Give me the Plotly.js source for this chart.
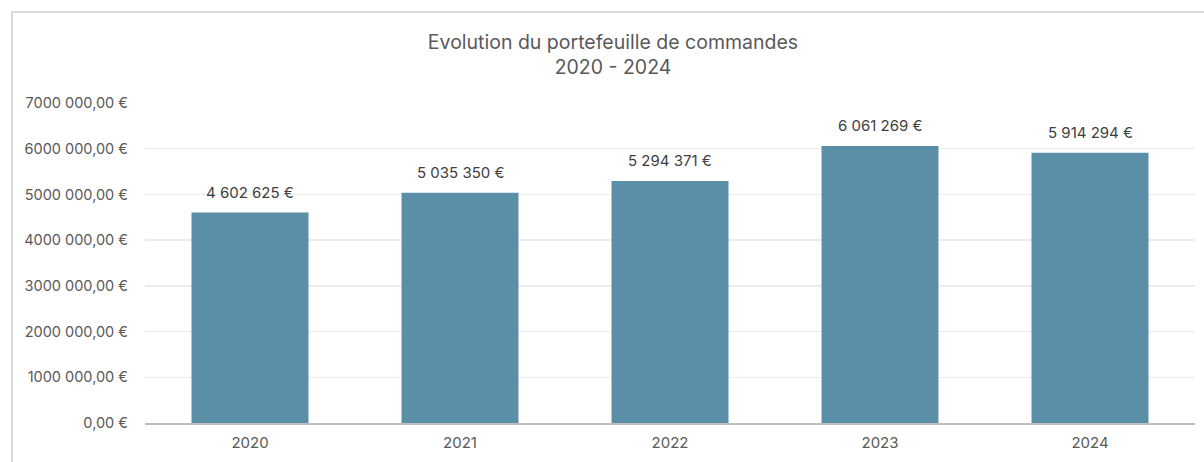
<!DOCTYPE html>
<html>
<head>
<meta charset="utf-8">
<script src="https://cdn.plot.ly/plotly-3.0.1.min.js"></script>
<style>
html,body{margin:0;padding:0;background:#fff;overflow:hidden;}
#frame{position:absolute;left:11px;top:11px;width:1400px;height:800px;border:2px solid #d9d9d9;box-sizing:border-box;}
#chart{position:absolute;left:0;top:0;width:1204px;height:462px;}
</style>
</head>
<body>
<div id="frame"></div>
<div id="chart"></div>
<script>
const years = ['2020','2021','2022','2023','2024'];
const values = [4602625, 5035350, 5294371, 6061269, 5914294];
const valueLabels = ['4 602 625 €','5 035 350 €','5 294 371 €','6 061 269 €','5 914 294 €'];
const tickVals = [0,1000000,2000000,3000000,4000000,5000000,6000000,7000000];
const tickLabels = ['0,00 €','1000 000,00 €','2000 000,00 €','3000 000,00 €','4000 000,00 €','5000 000,00 €','6000 000,00 €','7000 000,00 €'];
const titleText = 'Evolution du portefeuille de commandes<br>2020 - 2024';

const font = 'Inter, "Open Sans", "Liberation Sans", sans-serif';

const trace = {
  type: 'bar',
  x: years,
  y: values,
  marker: {color: '#5b8ea7'},
  width: 0.557,
  hoverinfo: 'none'
};

const annotations = years.map((yr, i) => ({
  x: i, y: values[i], text: valueLabels[i], showarrow: false,
  yshift: 20, xref: 'x', yref: 'y',
  font: {family: font, size: 15, color: '#404040'}
}));

const layout = {
  width: 1204, height: 462,
  margin: {l: 145, r: 9, t: 103, b: 39},
  paper_bgcolor: 'rgba(0,0,0,0)',
  plot_bgcolor: 'rgba(0,0,0,0)',
  showlegend: false,
  title: {
    text: titleText,
    x: 613/1204, xref: 'container', xanchor: 'center',
    y: 1 - 49/462, yref: 'container', yanchor: 'middle',
    font: {family: font, size: 19.5, color: '#595959'}
  },
  xaxis: {
    type: 'category',
    range: [-0.5, 4.5],
    autorange: false,
    showgrid: false,
    showline: true, linecolor: '#bfbfbf', linewidth: 2,
    ticks: '', tickfont: {family: font, size: 15, color: '#595959'},
    ticklabelstandoff: 5,
    fixedrange: true
  },
  yaxis: {
    range: [0, 7000000],
    autorange: false,
    tickvals: tickVals, ticktext: tickLabels,
    showgrid: true, gridcolor: '#ececec', gridwidth: 1.5,
    zeroline: false, showline: false,
    ticks: '', tickfont: {family: font, size: 14.5, color: '#595959'},
    ticklabelstandoff: 16,
    fixedrange: true
  },
  annotations: annotations
};

Plotly.newPlot('chart', [trace], layout, {displayModeBar: false, staticPlot: true});
</script>
</body>
</html>
